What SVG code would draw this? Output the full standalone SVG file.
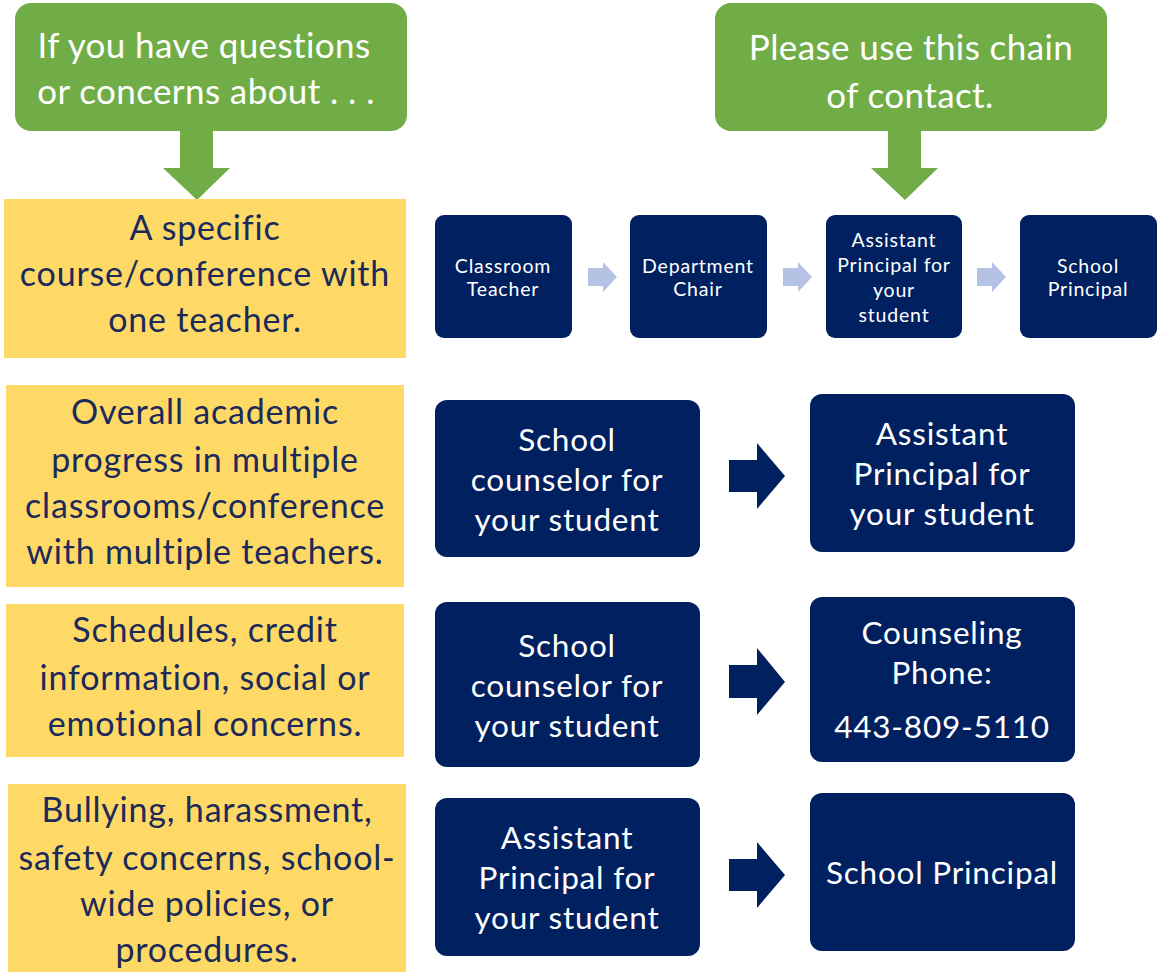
<svg xmlns="http://www.w3.org/2000/svg" width="1159" height="972" viewBox="0 0 1159 972">
<style>
.callout{fill:#70AD47}
.cw{fill:#FFFFFF;font-family:Lato,"Open Sans",sans-serif;font-size:35px;letter-spacing:0.4px;text-anchor:middle;dominant-baseline:central}
.ybox{fill:#FFD966}
.yt{fill:#1B2A5A;font-family:Lato,"Open Sans",sans-serif;font-size:34px;letter-spacing:0.8px;text-anchor:middle;dominant-baseline:central}
.nbox{fill:#002060}
.nt{fill:#FFFFFF;font-family:Lato,"Open Sans",sans-serif;font-size:31.5px;letter-spacing:0.8px;text-anchor:middle;dominant-baseline:central}
.ns{fill:#FFFFFF;font-family:Lato,"Open Sans",sans-serif;font-size:19.5px;letter-spacing:0.8px;text-anchor:middle;dominant-baseline:central}
.la{fill:#B4C2E3}
.da{fill:#002060}
</style>
<rect width="1159" height="972" fill="#FFFFFF"/>

<g id="callout-left">
<rect class="callout" x="15" y="3" width="392" height="128" rx="16"/>
<polygon class="callout" points="180,130 213,130 213,168 230,168 197,200 163,168 180,168"/>
<text class="cw" x="204" y="44">If you have questions</text>
<text class="cw" x="206" y="90">or concerns about . . .</text>
</g>

<g id="callout-right">
<rect class="callout" x="715" y="3" width="392" height="128" rx="16"/>
<polygon class="callout" points="888,130 921,130 921,168 938,168 905,200 871,168 888,168"/>
<text class="cw" x="911" y="46">Please use this chain</text>
<text class="cw" x="910" y="94">of contact.</text>
</g>

<g id="topic-1">
<rect class="ybox" x="4" y="199" width="402" height="159"/>
<text class="yt" x="205" y="226">A specific</text>
<text class="yt" x="205" y="272">course/conference with</text>
<text class="yt" x="205" y="318">one teacher.</text>
</g>
<g id="topic-2">
<rect class="ybox" x="6" y="385" width="398" height="202"/>
<text class="yt" x="205" y="410">Overall academic</text>
<text class="yt" x="205" y="458">progress in multiple</text>
<text class="yt" x="205" y="504">classrooms/conference</text>
<text class="yt" x="205" y="550">with multiple teachers.</text>
</g>
<g id="topic-3">
<rect class="ybox" x="6" y="604" width="398" height="153"/>
<text class="yt" x="205" y="628">Schedules, credit</text>
<text class="yt" x="205" y="676">information, social or</text>
<text class="yt" x="205" y="722">emotional concerns.</text>
</g>
<g id="topic-4">
<rect class="ybox" x="8" y="784" width="398" height="188"/>
<text class="yt" x="207" y="808">Bullying, harassment,</text>
<text class="yt" x="207" y="856">safety concerns, school-</text>
<text class="yt" x="207" y="902">wide policies, or</text>
<text class="yt" x="207" y="948">procedures.</text>
</g>

<g id="r1-classroom-teacher">
<rect class="nbox" x="435" y="215" width="137" height="123" rx="9"/>
<text class="ns" x="503" y="265">Classroom</text>
<text class="ns" x="503" y="288">Teacher</text>
</g>
<g id="r1-department-chair">
<rect class="nbox" x="630" y="215" width="137" height="123" rx="9"/>
<text class="ns" x="698" y="265">Department</text>
<text class="ns" x="698" y="288">Chair</text>
</g>
<g id="r1-assistant-principal">
<rect class="nbox" x="826" y="215" width="136" height="123" rx="9"/>
<text class="ns" x="894" y="239">Assistant</text>
<text class="ns" x="894" y="264">Principal for</text>
<text class="ns" x="894" y="289">your</text>
<text class="ns" x="894" y="314">student</text>
</g>
<g id="r1-school-principal">
<rect class="nbox" x="1020" y="215" width="137" height="123" rx="9"/>
<text class="ns" x="1088" y="265">School</text>
<text class="ns" x="1088" y="288">Principal</text>
</g>

<g id="r2-counselor">
<rect class="nbox" x="435" y="400" width="265" height="157" rx="12"/>
<text class="nt" x="567" y="439">School</text>
<text class="nt" x="567" y="479">counselor for</text>
<text class="nt" x="567" y="519">your student</text>
</g>
<g id="r2-assistant-principal">
<rect class="nbox" x="810" y="394" width="265" height="158" rx="12"/>
<text class="nt" x="942" y="433">Assistant</text>
<text class="nt" x="942" y="473">Principal for</text>
<text class="nt" x="942" y="513">your student</text>
</g>

<g id="r3-counselor">
<rect class="nbox" x="435" y="602" width="265" height="165" rx="12"/>
<text class="nt" x="567" y="645">School</text>
<text class="nt" x="567" y="685">counselor for</text>
<text class="nt" x="567" y="725">your student</text>
</g>
<g id="r3-counseling-phone">
<rect class="nbox" x="810" y="597" width="265" height="165" rx="12"/>
<text class="nt" x="942" y="632">Counseling</text>
<text class="nt" x="942" y="672">Phone:</text>
<text class="nt" x="942" y="726">443-809-5110</text>
</g>

<g id="r4-assistant-principal">
<rect class="nbox" x="435" y="798" width="265" height="158" rx="12"/>
<text class="nt" x="567" y="837">Assistant</text>
<text class="nt" x="567" y="877">Principal for</text>
<text class="nt" x="567" y="917">your student</text>
</g>
<g id="r4-school-principal">
<rect class="nbox" x="810" y="793" width="265" height="158" rx="12"/>
<text class="nt" x="942" y="872">School Principal</text>
</g>

<g id="connectors">
<polygon class="la" points="588,268 603,268 603,262 617,277 603,292 603,286 588,286"/>
<polygon class="la" points="783,268 798,268 798,262 812,277 798,292 798,286 783,286"/>
<polygon class="la" points="977,268 992,268 992,262 1006,277 992,292 992,286 977,286"/>
<polygon class="da" points="729,460 757,460 757,443 785,476 757,509 757,492 729,492"/>
<polygon class="da" points="729,665 757,665 757,648 785,682 757,715 757,698 729,698"/>
<polygon class="da" points="729,859 757,859 757,842 785,875 757,908 757,891 729,891"/>
</g>
</svg>
